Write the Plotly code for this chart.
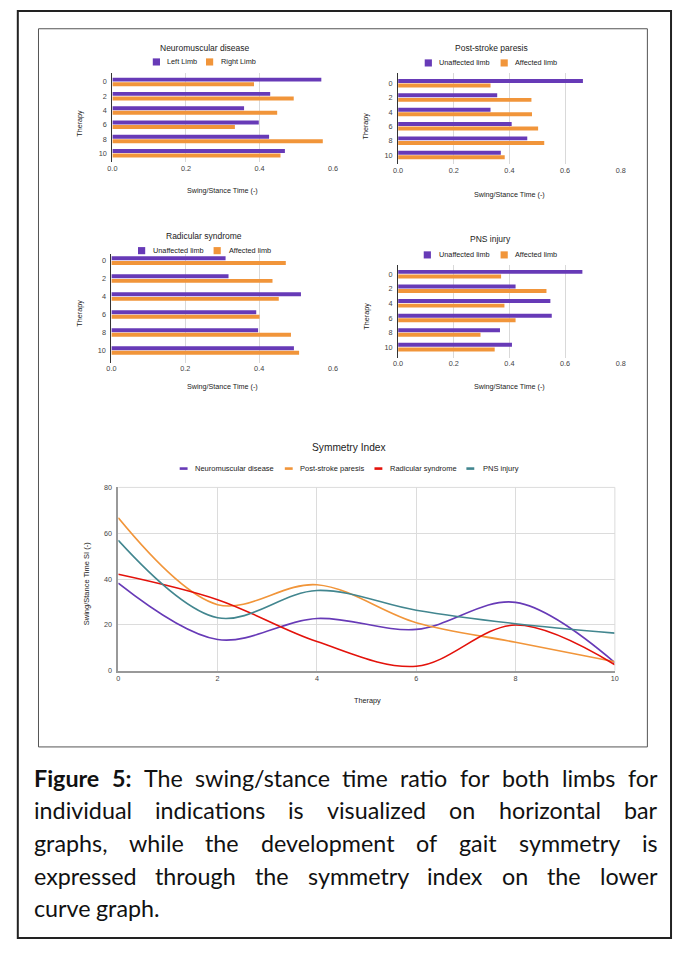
import os
import glob
import struct
import subprocess
import plotly.graph_objects as go

W, H = 678, 954

# ---------------- data ----------------
therapy = ["0", "2", "4", "6", "8", "10"]
therapy_num = [0, 2, 4, 6, 8, 10]

nm_title = "Neuromuscular disease"
nm_names = ["Left Limb", "Right Limb"]
nm_left = [0.568, 0.429, 0.358, 0.398, 0.426, 0.469]
nm_right = [0.385, 0.493, 0.448, 0.333, 0.572, 0.457]

ps_title = "Post-stroke paresis"
ps_names = ["Unaffected limb", "Affected limb"]
ps_unaff = [0.664, 0.356, 0.332, 0.408, 0.464, 0.369]
ps_aff = [0.332, 0.479, 0.481, 0.503, 0.525, 0.383]

rs_title = "Radicular syndrome"
rs_names = ["Unaffected limb", "Affected limb"]
rs_unaff = [0.309, 0.317, 0.513, 0.392, 0.397, 0.494]
rs_aff = [0.472, 0.436, 0.453, 0.401, 0.486, 0.508]

pns_title = "PNS injury"
pns_names = ["Unaffected limb", "Affected limb"]
pns_unaff = [0.662, 0.422, 0.547, 0.552, 0.366, 0.409]
pns_aff = [0.370, 0.533, 0.382, 0.422, 0.296, 0.347]

si_title = "Symmetry Index"
si_names = ["Neuromuscular disease", "Post-stroke paresis", "Radicular syndrome", "PNS injury"]
si_nm = [38.2, 13.6, 22.8, 18.0, 29.8, 3.5]
si_ps = [66.7, 28.8, 37.5, 20.9, 12.4, 3.9]
si_rs = [42.1, 31.0, 12.7, 1.9, 19.9, 2.6]
si_pns = [56.9, 23.1, 35.0, 26.4, 20.5, 16.4]

bar_x_title = "Swing/Stance Time (-)"
bar_y_title = "Therapy"
si_x_title = "Therapy"
si_y_title = "Swing/Stance Time SI (-)"

caption_bold = "Figure 5:"
caption_lines = [
    "The swing/stance time ratio for both limbs for",
    "individual indications is visualized on horizontal bar",
    "graphs, while the development of gait symmetry is",
    "expressed through the symmetry index on the lower",
    "curve graph.",
]

# ---------------- styles ----------------
PURPLE = "#673ab7"
ORANGE = "#f1953a"
RED = "#e3120b"
TEAL = "#42868f"
FONT = "Liberation Sans"
CAP = "Lato"
CAP_SIZE = 23.3


def px(x):
    return x / W


def py(y):
    return 1 - y / H


# --------- font metrics (for justified caption layout) ---------
def _find_font(pattern, fname):
    path = None
    try:
        path = subprocess.run(["fc-match", "-f", "%{file}", pattern], capture_output=True,
                              text=True, timeout=10).stdout.strip()
    except Exception:
        path = None
    if not path or not os.path.exists(path) or "lato" not in path.lower():
        hits = glob.glob("/usr/share/fonts/**/" + fname, recursive=True) + \
            glob.glob("/usr/local/share/fonts/**/" + fname, recursive=True)
        path = hits[0] if hits else path
    return path


def _load_metrics(path):
    data = open(path, "rb").read()
    if data[:4] == b"ttcf":
        off0 = struct.unpack(">I", data[12:16])[0]
    else:
        off0 = 0
    num = struct.unpack(">H", data[off0 + 4:off0 + 6])[0]
    tables = {}
    for k in range(num):
        rec = off0 + 12 + 16 * k
        tag = data[rec:rec + 4].decode("latin1")
        o, ln = struct.unpack(">II", data[rec + 8:rec + 16])
        tables[tag] = o
    upem = struct.unpack(">H", data[tables["head"] + 18:tables["head"] + 20])[0]
    nhm = struct.unpack(">H", data[tables["hhea"] + 34:tables["hhea"] + 36])[0]
    hm = tables["hmtx"]
    advs = [struct.unpack(">H", data[hm + 4 * k:hm + 4 * k + 2])[0] for k in range(nhm)]
    cm = tables["cmap"]
    ntab = struct.unpack(">H", data[cm + 2:cm + 4])[0]
    sub = None
    for k in range(ntab):
        pid, eid, so = struct.unpack(">HHI", data[cm + 4 + 8 * k:cm + 12 + 8 * k])
        fmt = struct.unpack(">H", data[cm + so:cm + so + 2])[0]
        if fmt == 4 and (pid == 3 or pid == 0):
            sub = cm + so
            break
    seg = struct.unpack(">H", data[sub + 6:sub + 8])[0] // 2
    ends = struct.unpack(">%dH" % seg, data[sub + 14:sub + 14 + 2 * seg])
    sp = sub + 16 + 2 * seg
    starts = struct.unpack(">%dH" % seg, data[sp:sp + 2 * seg])
    deltas = struct.unpack(">%dh" % seg, data[sp + 2 * seg:sp + 4 * seg])
    rpos = sp + 4 * seg
    roffs = struct.unpack(">%dH" % seg, data[rpos:rpos + 2 * seg])

    def gid(c):
        for k in range(seg):
            if starts[k] <= c <= ends[k]:
                if roffs[k] == 0:
                    return (c + deltas[k]) & 0xFFFF
                a = rpos + 2 * k + roffs[k] + 2 * (c - starts[k])
                g = struct.unpack(">H", data[a:a + 2])[0]
                return (g + deltas[k]) & 0xFFFF if g else 0
        return 0

    def width(text):
        tot = 0
        for ch in text:
            g = gid(ord(ch))
            tot += advs[min(g, nhm - 1)]
        return tot / upem

    return width


_FALLBACK = {c: 0.52 for c in "abcdeghknopqsuvxyz"}
_FALLBACK.update({"f": 0.32, "i": 0.24, "j": 0.24, "l": 0.24, "m": 0.82, "r": 0.36, "t": 0.34,
                  "w": 0.74, " ": 0.2, ".": 0.22, ",": 0.22, ":": 0.24, "/": 0.37, "F": 0.5, "T": 0.5, "5": 0.58})


def _fallback_width(text):
    return sum(_FALLBACK.get(ch, 0.52) for ch in text)


def get_widths():
    try:
        reg = _load_metrics(_find_font("Lato:style=Regular", "Lato-Regular.ttf"))
    except Exception:
        reg = _fallback_width
    try:
        bold = _load_metrics(_find_font("Lato:style=Bold", "Lato-Bold.ttf"))
    except Exception:
        bold = lambda t: _fallback_width(t) * 1.04
    return reg, bold


w_reg, w_bold = get_widths()

fig = go.Figure()
annotations = []
shapes = []

# outer frames
shapes.append(dict(type="rect", xref="paper", yref="paper", x0=px(13), x1=px(676), y0=py(943), y1=py(7),
                   line=dict(color="#222", width=2)))
shapes.append(dict(type="rect", xref="paper", yref="paper", x0=px(34), x1=px(652), y0=py(750), y1=py(25),
                   line=dict(color="#555", width=1)))

bar_specs = [
    dict(i=1, title=nm_title, names=nm_names, s=(nm_left, nm_right),
         x0=109, x1=333, y0=70, y1=160, xmax=0.6, pad=(0.6, 0.65),
         tx=202.5, ty=44, ly=58.5, l1=150, t1=162.5, l2=204, t2=217,
         xty=188, ytx=76, yty=120),
    dict(i=2, title=ps_title, names=ps_names, s=(ps_unaff, ps_aff),
         x0=399, x1=625, y0=70, y1=162, xmax=0.8, pad=(0.69, 0.66),
         tx=493.8, ty=44, ly=59.5, l1=426, t1=438.3, l2=503, t2=516,
         xty=192.7, ytx=366, yty=123),
    dict(i=3, title=rs_title, names=rs_names, s=(rs_unaff, rs_aff),
         x0=108, x1=333, y0=252, y1=362, xmax=0.6, pad=(0.39, 0.67),
         tx=202, ty=234, ly=249, l1=135, t1=147.7, l2=211.7, t2=225,
         xty=385.7, ytx=76, yty=311.7),
    dict(i=4, title=pns_title, names=pns_names, s=(pns_unaff, pns_aff),
         x0=399, x1=625, y0=263, y1=357, xmax=0.8, pad=(0.66, 0.72),
         tx=493, ty=237, ly=253.3, l1=425, t1=438, l2=503, t2=516,
         xty=386, ytx=366, yty=315),
]

for sp in bar_specs:
    i = sp["i"]
    xa = "x" if i == 1 else f"x{i}"
    ya = "y" if i == 1 else f"y{i}"
    span = (len(therapy) - 1) + sp["pad"][0] + sp["pad"][1]
    cat_px = (sp["y1"] - sp["y0"]) / span
    w = 4.0 / cat_px
    g = 0.6 / cat_px
    offs = (-w - g / 2, g / 2)
    for vals, col, off in zip(sp["s"], (PURPLE, ORANGE), offs):
        fig.add_trace(go.Bar(y=therapy, x=vals, orientation="h", width=w, offset=off,
                             marker=dict(color=col, line=dict(width=0)),
                             xaxis=xa, yaxis=ya, showlegend=False, hoverinfo="x+y"))
    fig.layout[("xaxis" if i == 1 else f"xaxis{i}")] = dict(
        domain=[px(sp["x0"]), px(sp["x1"])], anchor=ya, range=[0, sp["xmax"]],
        tickvals=[k * 0.2 for k in range(int(round(sp["xmax"] / 0.2)) + 1)], tickformat=".1f",
        showgrid=True, gridcolor="#d9d9d9", gridwidth=1, zeroline=False, showline=False, ticks="",
        tickfont=dict(family=FONT, size=7.3, color="#444"), fixedrange=True)
    fig.layout[("yaxis" if i == 1 else f"yaxis{i}")] = dict(
        domain=[py(sp["y1"]), py(sp["y0"])], anchor=xa, type="category",
        range=[len(therapy) - 1 + sp["pad"][1], -sp["pad"][0]],
        showgrid=False, zeroline=False, showline=True, linecolor="#333", linewidth=1, ticks="",
        ticklabelstandoff=3,
        tickfont=dict(family=FONT, size=7.3, color="#444"), fixedrange=True)
    annotations.append(dict(text=sp["title"], x=px(sp["tx"]), y=py(sp["ty"]), xref="paper", yref="paper",
                            showarrow=False, xanchor="center", yanchor="middle",
                            font=dict(family=FONT, size=8.5, color="#222")))
    annotations.append(dict(text=bar_x_title, x=px((sp["x0"] + sp["x1"]) / 2), y=py(sp["xty"]), xref="paper",
                            yref="paper", showarrow=False, xanchor="center", yanchor="middle",
                            font=dict(family=FONT, size=7.2, color="#222")))
    annotations.append(dict(text=bar_y_title, x=px(sp["ytx"]), y=py(sp["yty"]), xref="paper", yref="paper",
                            showarrow=False, xanchor="center", yanchor="middle", textangle=-90,
                            font=dict(family=FONT, size=7.2, color="#222")))
    for lx, tx, col, name in ((sp["l1"], sp["t1"], PURPLE, sp["names"][0]), (sp["l2"], sp["t2"], ORANGE, sp["names"][1])):
        shapes.append(dict(type="rect", xref="paper", yref="paper", x0=px(lx), x1=px(lx + 7.3),
                           y0=py(sp["ly"] + 3.6), y1=py(sp["ly"] - 3.6), fillcolor=col, line=dict(width=0)))
        annotations.append(dict(text=name, x=px(tx), y=py(sp["ly"]), xref="paper", yref="paper", showarrow=False,
                                xanchor="left", yanchor="middle", font=dict(family=FONT, size=7.3, color="#222")))

# ---------------- symmetry index line chart ----------------
for vals, col, name in zip((si_nm, si_ps, si_rs, si_pns), (PURPLE, ORANGE, RED, TEAL), si_names):
    fig.add_trace(go.Scatter(x=therapy_num, y=vals, mode="lines", name=name,
                             line=dict(color=col, width=1.6, shape="spline", smoothing=1.0),
                             xaxis="x5", yaxis="y5", showlegend=False))

LX0, LX1, LY0, LY1 = 115, 619, 488, 673
fig.layout["xaxis5"] = dict(domain=[px(LX0), px(LX1)], anchor="y5", range=[0, 10], tickvals=therapy_num,
                            showgrid=True, gridcolor="#dcdcdc", zeroline=False, showline=True,
                            linecolor="#999", linewidth=1.5, ticks="",
                            tickfont=dict(family=FONT, size=7.2, color="#444"), fixedrange=True)
fig.layout["yaxis5"] = dict(domain=[py(LY1), py(LY0)], anchor="x5", range=[0, 80], tickvals=[0, 20, 40, 60, 80],
                            showgrid=True, gridcolor="#dcdcdc", zeroline=False, showline=True,
                            linecolor="#999", linewidth=1.5, ticks="", ticklabelstandoff=3,
                            tickfont=dict(family=FONT, size=7.2, color="#444"), fixedrange=True)
shapes.append(dict(type="line", xref="x5 domain", yref="y5 domain", x0=0, x1=1, y0=1, y1=1,
                   line=dict(color="#dcdcdc", width=1)))
shapes.append(dict(type="line", xref="x5 domain", yref="y5 domain", x0=1, x1=1, y0=0, y1=1,
                   line=dict(color="#dcdcdc", width=1)))

annotations.append(dict(text=si_title, x=px(349), y=py(448), xref="paper", yref="paper", showarrow=False,
                        xanchor="center", yanchor="middle", font=dict(family=FONT, size=10.2, color="#222")))
annotations.append(dict(text=si_x_title, x=px(368), y=py(703), xref="paper", yref="paper", showarrow=False,
                        xanchor="center", yanchor="middle", font=dict(family=FONT, size=7.3, color="#222")))
annotations.append(dict(text=si_y_title, x=px(83), y=py(585), xref="paper", yref="paper", showarrow=False,
                        xanchor="center", yanchor="middle", textangle=-90,
                        font=dict(family=FONT, size=7.5, color="#222")))
leg = [(177.3, 191, PURPLE), (284, 297.3, ORANGE), (375, 388.3, RED), (468.3, 482.7, TEAL)]
for (lx, tx, col), name in zip(leg, si_names):
    shapes.append(dict(type="line", xref="paper", yref="paper", x0=px(lx), x1=px(lx + 8), y0=py(469), y1=py(469),
                       line=dict(color=col, width=2.6)))
    annotations.append(dict(text=name, x=px(tx), y=py(469), xref="paper", yref="paper", showarrow=False,
                            xanchor="left", yanchor="middle", font=dict(family=FONT, size=7.5, color="#222")))

# ---------------- caption (justified) ----------------
CAP_L, CAP_R = 30, 662
cap_y = [781, 814, 847, 880, 913]
tokens_by_line = []
for k, line in enumerate(caption_lines):
    toks = [(wd, False) for wd in line.split(" ")]
    if k == 0:
        toks = [(wd, True) for wd in caption_bold.split(" ")] + toks
    tokens_by_line.append(toks)

for k, (toks, yy) in enumerate(zip(tokens_by_line, cap_y)):
    widths = [(w_bold(t) if b else w_reg(t)) * CAP_SIZE for t, b in toks]
    last = k == len(tokens_by_line) - 1
    if last or len(toks) < 2:
        gap = w_reg(" ") * CAP_SIZE
    else:
        gap = (CAP_R - CAP_L - sum(widths)) / (len(toks) - 1)
    xcur = CAP_L
    for (t, b), wd in zip(toks, widths):
        annotations.append(dict(text=("<b>%s</b>" % t) if b else t, x=px(xcur + wd / 2), y=py(yy),
                                xref="paper", yref="paper", showarrow=False, xanchor="center",
                                yanchor="middle", borderpad=0,
                                font=dict(family=CAP, size=CAP_SIZE, color="#111")))
        xcur += wd + gap

fig.update_layout(width=W, height=H, margin=dict(l=0, r=0, t=0, b=0, pad=0), autosize=False,
                  paper_bgcolor="white", plot_bgcolor="white", barmode="overlay",
                  annotations=annotations, shapes=shapes, showlegend=False,
                  font=dict(family=FONT))

fig.write_html("out.html", config={"displayModeBar": False})
